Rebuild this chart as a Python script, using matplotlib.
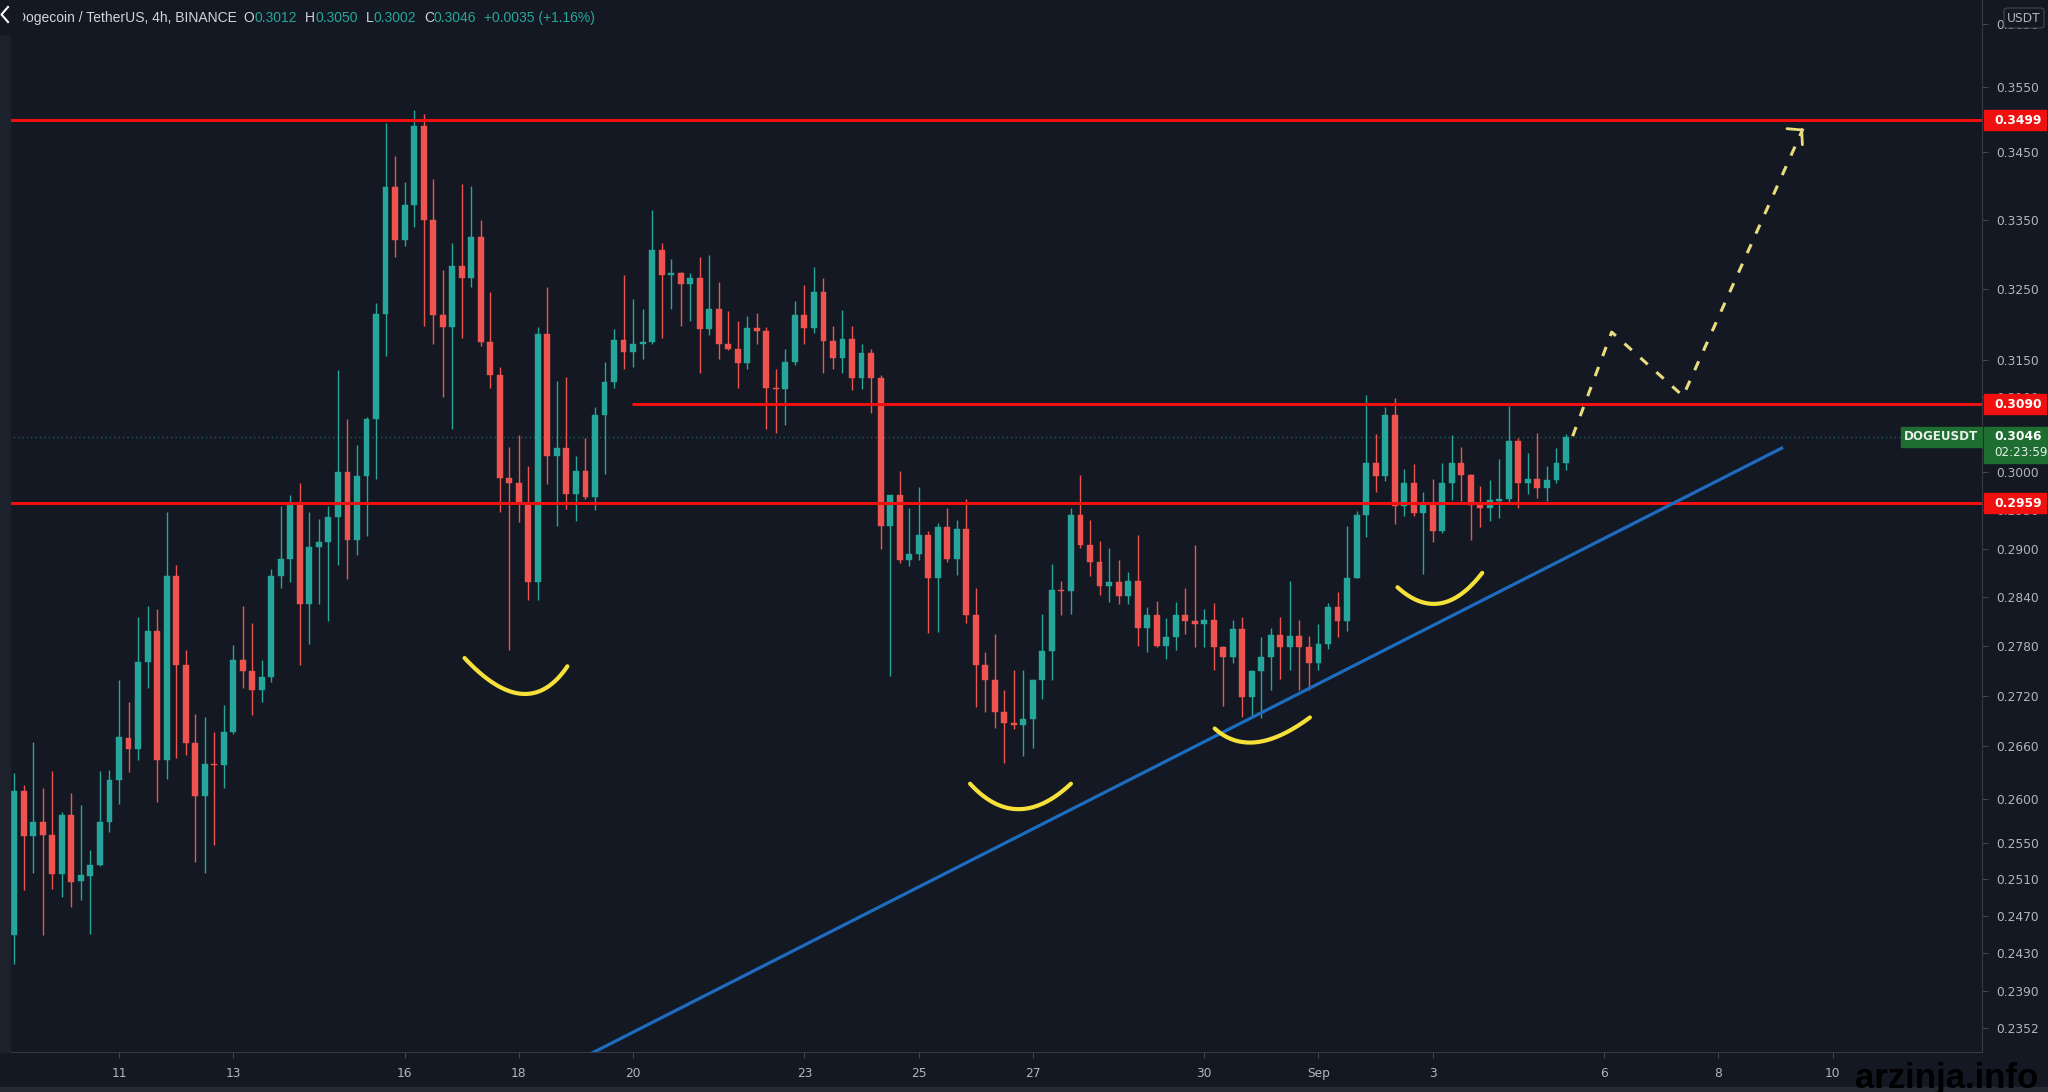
import numpy as np
import pandas as pd
import matplotlib
matplotlib.use('Agg')
import matplotlib.pyplot as plt
from matplotlib.patches import Rectangle, FancyBboxPatch
from matplotlib.lines import Line2D
from matplotlib.ticker import NullLocator

# ---------------- data ----------------
start = pd.Timestamp('2021-08-09 04:00')   # first 4h candle

opens = [0.2449, 0.2609, 0.2558, 0.2574, 0.2559, 0.2516, 0.2581, 0.2508, 0.2513, 0.2526,
         0.2574, 0.2621, 0.2670, 0.2657, 0.2760, 0.2798, 0.2644, 0.2866, 0.2756, 0.2664,
         0.2603, 0.2640, 0.2638, 0.2677, 0.2763, 0.2749, 0.2727, 0.2742, 0.2866, 0.2888,
         0.2958, 0.2831, 0.2903, 0.2909, 0.2941, 0.3000, 0.2911, 0.2994, 0.3070, 0.3214,
         0.3398, 0.3320, 0.3372, 0.3490, 0.3349, 0.3213, 0.3196, 0.3282, 0.3265, 0.3325,
         0.3175, 0.3130, 0.2992, 0.2985, 0.2958, 0.2858, 0.3187, 0.3020, 0.3031, 0.2971,
         0.3001, 0.2967, 0.3075, 0.3120, 0.3178, 0.3162, 0.3172, 0.3175, 0.3306, 0.3270,
         0.3272, 0.3257, 0.3265, 0.3194, 0.3222, 0.3173, 0.3165, 0.3146, 0.3195, 0.3191,
         0.3112, 0.3111, 0.3147, 0.3213, 0.3195, 0.3245, 0.3176, 0.3153, 0.3180, 0.3125,
         0.3160, 0.3126, 0.2929, 0.2969, 0.2886, 0.2894, 0.2918, 0.2863, 0.2928, 0.2888,
         0.2926, 0.2818, 0.2756, 0.2739, 0.2701, 0.2688, 0.2685, 0.2692, 0.2739, 0.2773,
         0.2849, 0.2847, 0.2944, 0.2905, 0.2884, 0.2854, 0.2859, 0.2841, 0.2860, 0.2801,
         0.2818, 0.2780, 0.2790, 0.2818, 0.2810, 0.2806, 0.2812, 0.2778, 0.2766, 0.2800,
         0.2718, 0.2749, 0.2766, 0.2793, 0.2778, 0.2792, 0.2778, 0.2759, 0.2782, 0.2828,
         0.2810, 0.2864, 0.2943, 0.3011, 0.2994, 0.3075, 0.2955, 0.2985, 0.2946, 0.2956,
         0.2923, 0.2985, 0.3011, 0.2996, 0.2956, 0.2953, 0.2962, 0.2964, 0.3041, 0.2985,
         0.2991, 0.2979, 0.2989, 0.3012]
highs = [0.2629, 0.2615, 0.2665, 0.2612, 0.2632, 0.2585, 0.2606, 0.2593, 0.2542, 0.2632,
         0.2633, 0.2739, 0.2712, 0.2815, 0.2829, 0.2825, 0.2948, 0.2880, 0.2775, 0.2698,
         0.2695, 0.2677, 0.2709, 0.2781, 0.2829, 0.2808, 0.2763, 0.2875, 0.2955, 0.2970,
         0.2985, 0.2948, 0.2938, 0.2955, 0.3137, 0.3070, 0.3035, 0.3072, 0.3230, 0.3494,
         0.3445, 0.3406, 0.3515, 0.3508, 0.3410, 0.3277, 0.3316, 0.3403, 0.3400, 0.3349,
         0.3245, 0.3140, 0.3033, 0.3048, 0.3007, 0.3196, 0.3252, 0.3121, 0.3127, 0.3021,
         0.3045, 0.3086, 0.3148, 0.3193, 0.3270, 0.3235, 0.3221, 0.3364, 0.3316, 0.3292,
         0.3274, 0.3273, 0.3295, 0.3299, 0.3260, 0.3218, 0.3204, 0.3212, 0.3216, 0.3196,
         0.3138, 0.3165, 0.3233, 0.3256, 0.3281, 0.3265, 0.3198, 0.3220, 0.3198, 0.3173,
         0.3166, 0.3130, 0.2970, 0.3001, 0.2953, 0.2980, 0.2923, 0.2933, 0.2953, 0.2937,
         0.2964, 0.2851, 0.2772, 0.2794, 0.2726, 0.2750, 0.2750, 0.2740, 0.2819, 0.2881,
         0.2860, 0.2953, 0.2996, 0.2937, 0.2910, 0.2902, 0.2886, 0.2871, 0.2918, 0.2828,
         0.2835, 0.2814, 0.2834, 0.2851, 0.2905, 0.2825, 0.2832, 0.2779, 0.2812, 0.2815,
         0.2751, 0.2790, 0.2802, 0.2815, 0.2860, 0.2812, 0.2792, 0.2807, 0.2832, 0.2846,
         0.2930, 0.2949, 0.3102, 0.3050, 0.3086, 0.3098, 0.3003, 0.3010, 0.2974, 0.2990,
         0.3011, 0.3048, 0.3032, 0.2997, 0.2981, 0.2989, 0.3017, 0.3088, 0.3044, 0.3024,
         0.3051, 0.3007, 0.3031, 0.3050]
lows = [0.2418, 0.2498, 0.2517, 0.2449, 0.2499, 0.2490, 0.2479, 0.2487, 0.2450, 0.2524,
        0.2562, 0.2594, 0.2630, 0.2644, 0.2729, 0.2596, 0.2622, 0.2647, 0.2650, 0.2529,
        0.2517, 0.2548, 0.2612, 0.2675, 0.2729, 0.2697, 0.2712, 0.2736, 0.2851, 0.2859,
        0.2756, 0.2782, 0.2831, 0.2810, 0.2880, 0.2862, 0.2892, 0.2917, 0.2990, 0.3156,
        0.3295, 0.3311, 0.3339, 0.3197, 0.3172, 0.3100, 0.3056, 0.3181, 0.3253, 0.3169,
        0.3112, 0.2947, 0.2775, 0.2934, 0.2836, 0.2836, 0.2984, 0.2930, 0.2952, 0.2936,
        0.2964, 0.2950, 0.2997, 0.3112, 0.3138, 0.3141, 0.3151, 0.3172, 0.3181, 0.3222,
        0.3197, 0.3205, 0.3132, 0.3185, 0.3151, 0.3164, 0.3112, 0.3138, 0.3172, 0.3056,
        0.3051, 0.3062, 0.3143, 0.3172, 0.3188, 0.3133, 0.3138, 0.3133, 0.3109, 0.3111,
        0.3078, 0.2900, 0.2743, 0.2882, 0.2879, 0.2886, 0.2795, 0.2797, 0.2884, 0.2867,
        0.2808, 0.2706, 0.2700, 0.2681, 0.2641, 0.2680, 0.2649, 0.2658, 0.2716, 0.2739,
        0.2818, 0.2819, 0.2902, 0.2866, 0.2842, 0.2834, 0.2831, 0.2831, 0.2779, 0.2772,
        0.2778, 0.2764, 0.2775, 0.2794, 0.2778, 0.2778, 0.2750, 0.2708, 0.2759, 0.2695,
        0.2696, 0.2693, 0.2727, 0.2740, 0.2751, 0.2727, 0.2726, 0.2750, 0.2776, 0.2790,
        0.2798, 0.2863, 0.2916, 0.2974, 0.2988, 0.2932, 0.2942, 0.2942, 0.2868, 0.2909,
        0.2920, 0.2963, 0.2962, 0.2911, 0.2928, 0.2936, 0.2940, 0.2960, 0.2953, 0.2971,
        0.2966, 0.2962, 0.2985, 0.3002]
closes = [0.2609, 0.2558, 0.2574, 0.2559, 0.2516, 0.2581, 0.2507, 0.2514, 0.2526, 0.2574,
          0.2621, 0.2671, 0.2657, 0.2760, 0.2798, 0.2644, 0.2866, 0.2756, 0.2664, 0.2603,
          0.2640, 0.2638, 0.2677, 0.2763, 0.2749, 0.2727, 0.2742, 0.2866, 0.2888, 0.2958,
          0.2831, 0.2903, 0.2909, 0.2941, 0.3000, 0.2911, 0.2994, 0.3070, 0.3214, 0.3398,
          0.3320, 0.3372, 0.3490, 0.3349, 0.3213, 0.3196, 0.3282, 0.3265, 0.3325, 0.3175,
          0.3130, 0.2992, 0.2985, 0.2958, 0.2858, 0.3187, 0.3020, 0.3031, 0.2971, 0.3001,
          0.2967, 0.3075, 0.3120, 0.3178, 0.3162, 0.3172, 0.3175, 0.3306, 0.3270, 0.3272,
          0.3257, 0.3265, 0.3194, 0.3222, 0.3173, 0.3165, 0.3146, 0.3195, 0.3191, 0.3112,
          0.3111, 0.3147, 0.3213, 0.3195, 0.3245, 0.3176, 0.3153, 0.3180, 0.3125, 0.3160,
          0.3126, 0.2929, 0.2969, 0.2886, 0.2894, 0.2918, 0.2863, 0.2928, 0.2888, 0.2926,
          0.2818, 0.2756, 0.2739, 0.2701, 0.2687, 0.2685, 0.2692, 0.2739, 0.2773, 0.2849,
          0.2847, 0.2944, 0.2905, 0.2884, 0.2854, 0.2859, 0.2841, 0.2860, 0.2801, 0.2818,
          0.2780, 0.2790, 0.2818, 0.2810, 0.2806, 0.2812, 0.2778, 0.2766, 0.2800, 0.2718,
          0.2749, 0.2766, 0.2793, 0.2778, 0.2792, 0.2778, 0.2759, 0.2782, 0.2828, 0.2810,
          0.2864, 0.2943, 0.3011, 0.2994, 0.3075, 0.2955, 0.2985, 0.2946, 0.2956, 0.2923,
          0.2985, 0.3011, 0.2996, 0.2956, 0.2953, 0.2963, 0.2964, 0.3041, 0.2985, 0.2991,
          0.2979, 0.2989, 0.3012, 0.3046]

day_labels = ['11', '13', '16', '18', '20', '23', '25', '27', '30', 'Sep', '3', '6', '8', '10']
day_dates = ['2021-08-11', '2021-08-13', '2021-08-16', '2021-08-18', '2021-08-20',
             '2021-08-23', '2021-08-25', '2021-08-27', '2021-08-30', '2021-09-01',
             '2021-09-03', '2021-09-06', '2021-09-08', '2021-09-10']

price_ticks = [0.3650, 0.3550, 0.3450, 0.3350, 0.3250, 0.3150, 0.3100, 0.3000, 0.2950,
               0.2900, 0.2840, 0.2780, 0.2720, 0.2660, 0.2600, 0.2550, 0.2510, 0.2470,
               0.2430, 0.2390, 0.2352]

levels = [0.3499, 0.3090, 0.2959]
level_start = [-0.45, 64.9, -0.45]      # candle index where each level line starts

trend_x = [60.1, 185.8]
trend_y = [0.2323, 0.3032]

# hand-drawn "smile" arcs: start, bottom, end (candle index, price)
arcs_x = [[47.3, 53.3, 58.1], [100.4, 105.5, 111.0], [126.1, 130.5, 136.1], [145.3, 149.8, 154.2]]
arcs_y = [[0.2765, 0.2722, 0.2755], [0.2617, 0.2588, 0.2617], [0.2681, 0.2665, 0.2694],
          [0.2852, 0.2832, 0.2870]]

proj_x = [163.7, 167.8, 175.3, 187.9]
proj_y = [0.3047, 0.3189, 0.3101, 0.3486]

last_price = 0.3046
countdown = '02:23:59'
symbol = 'DOGEUSDT'
header_title = 'Dogecoin / TetherUS, 4h, BINANCE'
header_ohlc = [('O', '0.3012'), ('H', '0.3050'), ('L', '0.3002'), ('C', '0.3046')]
header_change = '+0.0035 (+1.16%)'

# ---------------- style ----------------
BG = '#141823'
UP = '#26a69a'
DOWN = '#ef5350'
TXT = '#b2b5be'
W, H = 2048, 1092


def fx(px):
    return px / W


def fy(py):
    return 1 - py / H


fig = plt.figure(figsize=(W / 100, H / 100), dpi=100, facecolor=BG)
ax = fig.add_axes([0, 40 / H, 1982 / W, 1052 / H])
ax.set_facecolor(BG)

o = np.array(opens)
h = np.array(highs)
l = np.array(lows)
c = np.array(closes)
idx = np.arange(len(o))
cols = np.where(c >= o, UP, DOWN)

ax.set_yscale('log')
ax.set_xlim(-1.5, 206.7)
ax.set_ylim(0.2327, 0.3688)

ax.vlines(idx, l, h, colors=cols, lw=1.0, zorder=2)
ax.bar(idx, np.maximum(np.abs(c - o), 0.00015), width=0.62, bottom=np.minimum(o, c),
       color=cols, edgecolor=cols, lw=0.3, zorder=3)

# current price dotted line
ax.axhline(last_price, color=UP, lw=0.9, ls=(0, (1, 2.5)), alpha=0.55, zorder=1)

# levels, trendline
ax.hlines(levels, level_start, 206.7, colors='#f01010', lw=2.2, zorder=4)
ax.plot(trend_x, trend_y, color='#1c6cc0', lw=2.3, zorder=4, solid_capstyle='butt')

# smile arcs (quadratic curve through three points, in log space)
t = np.linspace(0, 1, 60)
for xs, ys in zip(arcs_x, arcs_y):
    lx = np.log(ys)
    cx = 2 * xs[1] - (xs[0] + xs[2]) / 2
    cy = 2 * lx[1] - (lx[0] + lx[2]) / 2
    bx = (1 - t) ** 2 * xs[0] + 2 * t * (1 - t) * cx + t ** 2 * xs[2]
    by = (1 - t) ** 2 * lx[0] + 2 * t * (1 - t) * cy + t ** 2 * lx[2]
    ax.plot(bx, np.exp(by), color='#f5e13a', lw=3.0, solid_capstyle='round', zorder=5)

# projected path
ax.plot(proj_x, proj_y, color='#e8dc7c', lw=2.2, ls=(0, (3.2, 3.8)), zorder=5)
ax.annotate('', xy=(proj_x[-1], proj_y[-1]),
            xytext=(proj_x[-1] - 0.15, proj_y[-1] * np.exp(-0.0006)),
            arrowprops=dict(arrowstyle='->,head_length=0.7,head_width=0.8', color='#e8dc7c',
                            lw=2.0, shrinkA=0, shrinkB=0), zorder=5)

# axes look
for s in ['top', 'left']:
    ax.spines[s].set_visible(False)
ax.spines['right'].set_color('#363a45')
ax.spines['bottom'].set_color('#363a45')
ax.yaxis.tick_right()
ax.set_yticks(price_ticks)
ax.set_yticklabels(['%.4f' % p for p in price_ticks])
ax.yaxis.set_minor_locator(NullLocator())
ax.tick_params(axis='y', which='major', length=4, color='#434651', labelcolor=TXT,
               labelsize=8.8, pad=6)

day_idx = [(pd.Timestamp(d) - start) / pd.Timedelta(hours=4) for d in day_dates]
ax.set_xticks(day_idx)
ax.set_xticklabels(day_labels)
ax.tick_params(axis='x', length=4, color='#434651', labelcolor=TXT, labelsize=8.8, pad=7)


def py_of(price):
    return H - ax.transData.transform((0, price))[1]


# left strip and bottom strip
fig.add_artist(Rectangle((0, fy(1052)), fx(10), 1052 / H, transform=fig.transFigure,
                         color='#1d212c', zorder=1))
fig.add_artist(Rectangle((0, 0), 1, 5 / H, transform=fig.transFigure, color='#262a35', zorder=1))

# price labels on the right axis
for p in levels:
    yc = py_of(p)
    fig.add_artist(Rectangle((fx(1984), fy(yc + 10)), fx(62), 20 / H,
                             transform=fig.transFigure, color='#f01010', zorder=2))
    fig.text(fx(1994), fy(yc), '%.4f' % p, color='white', fontsize=8.8, fontweight='bold',
             va='center', ha='left', zorder=4)

yc = py_of(last_price)
fig.add_artist(Rectangle((fx(1984), fy(yc + 26)), fx(64), 36 / H,
                         transform=fig.transFigure, color='#1e6e32', zorder=2))
fig.add_artist(Rectangle((fx(1901), fy(yc + 10)), fx(81), 20 / H,
                         transform=fig.transFigure, color='#1e6e32', zorder=2))
fig.text(fx(1941), fy(yc), symbol, color='#e8f0ea', fontsize=8.6, fontweight='bold',
         va='center', ha='center', zorder=4)
fig.text(fx(1994), fy(yc), '%.4f' % last_price, color='white', fontsize=8.8, fontweight='bold',
         va='center', ha='left', zorder=4)
fig.text(fx(1994), fy(yc + 16), countdown, color='#e8f0ea', fontsize=8.6,
         va='center', ha='left', zorder=4)

# currency box at top right
fig.add_artist(FancyBboxPatch((fx(2004), fy(28)), fx(40), 20 / H,
                              boxstyle='round,pad=0,rounding_size=0.002',
                              transform=fig.transFigure, facecolor=BG, edgecolor='#434651',
                              lw=0.8, zorder=2))
fig.text(fx(2024), fy(18), 'USDT', color=TXT, fontsize=8.8, va='center', ha='center', zorder=4)

# header, pieces laid out one after another
renderer = fig.canvas.get_renderer()
hdr = dict(fontsize=10.0, family='Liberation Sans', va='center', ha='left', zorder=4)
pieces = [(header_title, '#d1d4dc', 7)]
for lab, val in header_ohlc:
    pieces.append((lab, '#d1d4dc', 0))
    pieces.append((val, UP, 8))
pieces.append((header_change, UP, 0))
xpos = 16
for txt, col, gap in pieces:
    tt = fig.text(fx(xpos), fy(18), txt, color=col, **hdr)
    xpos = tt.get_window_extent(renderer).x1 + gap
# the back-arrow button hides the start of the title
fig.add_artist(Rectangle((0, fy(34)), fx(22), 34 / H, transform=fig.transFigure,
                         color=BG, zorder=4.5))
fig.add_artist(Line2D([fx(8), fx(1.5), fx(8)], [fy(7), fy(14.5), fy(22)],
                      transform=fig.transFigure, color='white', lw=1.5, zorder=5))

# watermark
fig.text(fx(1855), fy(1088), 'arzinja.info', color='black', fontsize=25, fontweight='bold',
         family='Liberation Sans', va='baseline', ha='left', zorder=6)

fig.savefig('out.png', dpi=100, facecolor=BG)
